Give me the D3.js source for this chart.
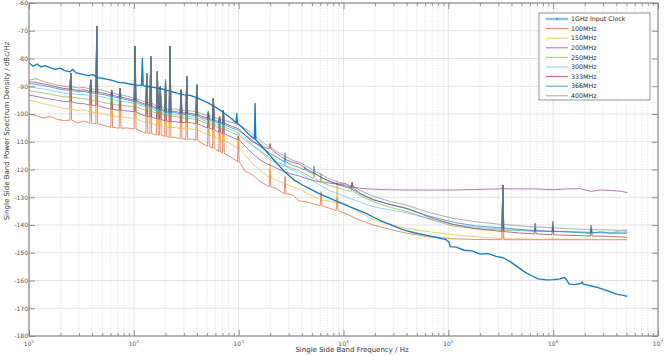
<!DOCTYPE html>
<html><head><meta charset="utf-8">
<script src="https://cdn.jsdelivr.net/npm/d3@7"></script>
<style>
html,body{margin:0;padding:0;background:#fff;}
svg{display:block;font-family:"DejaVu Sans",Verdana,sans-serif;}
</style></head><body>
<svg id="chart" width="664" height="356"></svg>
<script>
// ---------- DATA ----------
const seriesNames = ["1GHz Input Clock","100MHz","150MHz","200MHz","250MHz","300MHz","333MHz","366MHz","400MHz"];
const yTickValues = [-60,-70,-80,-90,-100,-110,-120,-130,-140,-150,-160,-170,-180];
const xTickExponents = [1,2,3,4,5,6,7];

// input clock
const clockFreqHz = [10, 10.92, 11.92, 13.02, 14.21, 15.87, 17.71, 19.76, 22.06, 24.62,
 26.29, 28.08, 32.05, 36.56, 40.8, 45.53, 50.82, 56.72, 63.3, 70.67,
 80.63, 91.99, 104.9, 118.4, 120.5, 122.9, 136.6, 159.4, 181.8, 207.4,
 231.5, 264.2, 301.3, 343.9, 392.2, 447.5, 510.5, 582.6, 664.5, 758.3,
 865, 944.6, 959.2, 973.9, 1078, 1229, 1412, 1434, 1456, 1672,
 1994, 2377, 2835, 3378, 4027, 4801, 5722, 6823, 8135, 9696,
 11560, 13780, 16430, 19590, 23350, 27850, 33190, 39570, 47180, 56230,
 67050, 79930, 95280, 101800, 104000, 118700, 141500, 168700, 201100, 239800,
 285800, 333400, 388800, 453400, 528800, 616600, 719300, 857600, 1022000, 1166000,
 1274000, 1331000, 1421000, 1621000, 1850000, 1891000, 1933000, 2255000, 2629000, 3066000,
 3576000, 4080000, 4554000, 5083000];
const clockDbc = [-81.5, -82.8, -82.0, -83.0, -82.6, -83.3, -83.9, -83.5, -84.4, -84.8,
 -83.9, -85.2, -85.6, -86.2, -85.8, -86.9, -87.2, -87.5, -88.0, -88.6,
 -88.8, -89.2, -89.6, -89.7, -80.0, -89.8, -90.1, -90.5, -90.9, -91.5,
 -92.0, -92.6, -93.1, -93.3, -94.0, -95.0, -96.0, -97.2, -98.6, -100.2,
 -101.8, -103.2, -99.8, -103.4, -104.8, -107.0, -109.0, -96.2, -109.3, -111.8,
 -115.0, -118.3, -121.3, -123.8, -125.5, -127.0, -128.5, -129.8, -131.0, -132.2,
 -133.5, -134.6, -135.8, -137.3, -138.7, -139.8, -141.0, -142.0, -142.8, -143.4,
 -144.0, -144.6, -145.3, -146.2, -147.8, -148.0, -149.1, -149.3, -150.5, -150.3,
 -151.3, -151.8, -153.2, -155.0, -156.8, -158.2, -159.4, -159.8, -159.7, -159.4,
 -158.9, -159.5, -161.3, -161.5, -161.0, -160.5, -161.3, -161.9, -162.5, -163.3,
 -164.2, -165.0, -165.3, -165.7];

// divided outputs: shared frequency grid (noise floor values)
const freqHz = [10, 11.66, 13.6, 15.87, 18.5, 21.6, 25.0, 29.3, 33.5, 38.8,
 44.3, 51.9, 61.5, 73.9, 86.1, 102.7, 117.1, 132.8, 145, 167.6,
 179.0, 200.6, 221.5, 247.3, 282.1, 319.8, 359.3, 398.3, 447.5, 514.0,
 573.7, 657.3, 714.5, 846, 993.4, 1151, 1343, 1601, 1994, 2325,
 2772, 3304, 3770, 4301, 4697, 5243, 6114, 7289, 8688, 10360,
 12080, 14400, 19160, 27850, 40460, 67050, 111100, 180300, 331100, 484300,
 673200, 993400, 1331000, 1809000, 2305000, 2809000, 3445000, 4358000, 5083000];

// spurs (each spur frequency is also in freqHz)
const spurFreqHz = [25.0, 38.8, 44.3, 61.5, 73.9, 102.7, 132.8, 145, 167.6, 179.0,
 200.6, 221.5, 282.1, 319.8, 398.3, 514.0, 573.7, 657.3, 714.5,
 993.4, 1994, 2772, 4301, 5243, 6114, 8688, 12080, 331100, 673200, 993400, 2305000];
// low-frequency spurs reached by every output
const sharedSpurDbc = [-85.3, -87.7, -68.3, -91.5, -90.7, -75.5, -85.3, -79.3, -84.7, -90.1,
 -87.7, -75.5, -91.3, -86.5, -89.5, -99.2, -94.4, -101.0, -98.6];

const dbc100 = [-100.0, -100.6, -101.4, -100.9, -101.9, -102.4, -102.2, -103.2, -102.5, -103.4,
 -103.5, -104.1, -104.8, -105.1, -105.0, -105.4, -106.2, -106.9, -107.1, -107.6,
 -107.6, -108.1, -108.5, -108.4, -108.9, -109.1, -109.0, -109.5, -110.6, -111.6,
 -112.3, -113.6, -114.2, -115.6, -117.2, -120.6, -121.8, -124.3, -126.2, -127.0,
 -128.8, -129.2, -131.3, -131.6, -131.9, -132.5, -133.1, -133.9, -134.8, -135.8,
 -137.0, -138.3, -140.0, -141.6, -143.0, -144.3, -145.0, -145.2, -145.3, -145.3,
 -145.3, -145.3, -145.3, -145.3, -145.3, -145.3, -145.3, -145.3, -145.3];
const dbc150 = [-95.0, -95.5, -96.3, -96.8, -97.4, -98.0, -98.2, -98.8, -98.4, -99.3,
 -99.5, -100.0, -100.7, -101.1, -101.3, -101.6, -102.5, -103.1, -103.4, -104.0,
 -104.1, -104.5, -104.9, -104.8, -105.3, -105.4, -105.4, -105.7, -106.6, -107.6,
 -108.1, -109.2, -109.7, -110.8, -112.2, -115.0, -117.8, -120.4, -122.8, -124.0,
 -125.1, -126.3, -127.0, -128.3, -129.0, -129.6, -130.9, -131.4, -132.0, -132.5,
 -133.9, -135.5, -138.0, -140.0, -141.2, -142.5, -143.5, -144.2, -144.9, -145.0,
 -145.1, -145.1, -145.1, -145.1, -145.1, -145.2, -145.2, -145.2, -145.2];
const dbc200 = [-93.2, -93.6, -94.2, -94.6, -95.0, -95.5, -95.6, -96.2, -96.3, -96.8,
 -97.0, -97.6, -98.3, -98.7, -98.9, -99.2, -100.1, -100.8, -101.1, -101.7,
 -101.9, -102.5, -102.8, -102.7, -103.1, -103.1, -103.2, -103.5, -104.2, -105.0,
 -105.6, -106.6, -107.1, -108.2, -109.3, -111.6, -114.1, -116.6, -118.5, -119.6,
 -120.9, -121.8, -122.3, -123.1, -123.6, -124.0, -124.5, -124.9, -125.2, -125.2,
 -126.3, -126.8, -127.1, -127.3, -127.4, -127.4, -127.4, -127.2, -126.95, -127.0,
 -127.0, -127.3, -127.0, -126.9, -127.9, -127.4, -127.5, -127.8, -128.3];
const dbc250 = [-91.6, -92.0, -92.4, -92.9, -93.3, -93.8, -93.9, -94.3, -94.4, -95.0,
 -95.4, -95.9, -96.4, -96.9, -97.1, -97.4, -98.1, -98.8, -99.1, -99.7,
 -100.0, -100.6, -100.9, -100.8, -101.4, -101.6, -101.7, -102.1, -102.7, -103.5,
 -104.1, -105.0, -105.5, -106.6, -107.7, -109.5, -111.3, -113.2, -115.9, -117.2,
 -118.6, -119.7, -120.3, -121.6, -122.4, -123.3, -124.6, -125.7, -126.6, -127.4,
 -127.9, -129.5, -131.6, -133.6, -135.2, -138.0, -140.4, -141.3, -141.85, -142.0,
 -142.3, -142.35, -142.3, -142.8, -143.1, -142.3, -143.0, -142.1, -142.3];
const dbc300 = [-90.2, -90.6, -91.0, -91.5, -92.0, -92.5, -92.6, -93.0, -92.9, -93.4,
 -93.6, -94.0, -94.7, -95.4, -95.7, -96.1, -97.0, -97.7, -98.1, -98.9,
 -99.2, -100.0, -100.3, -100.2, -100.7, -100.9, -101.0, -101.4, -102.0, -102.7,
 -103.3, -104.1, -104.6, -105.7, -106.8, -108.7, -110.9, -113.6, -116.6, -117.8,
 -119.1, -120.3, -121.0, -122.4, -123.3, -124.4, -125.9, -127.5, -128.6, -129.8,
 -130.7, -131.8, -133.4, -134.6, -135.6, -137.8, -139.8, -140.8, -141.45, -141.8,
 -142.1, -142.3, -142.4, -142.5, -142.6, -142.6, -142.6, -142.7, -142.7];
const dbc333 = [-88.4, -88.6, -89.1, -89.6, -90.3, -90.8, -91.0, -91.5, -91.3, -91.9,
 -92.1, -92.5, -93.2, -93.9, -94.4, -95.0, -95.9, -96.5, -96.9, -97.8,
 -98.0, -98.8, -99.1, -99.0, -99.5, -99.7, -99.9, -100.2, -100.9, -101.5,
 -102.1, -102.8, -103.3, -104.3, -105.3, -107.6, -110.0, -111.4, -112.6, -114.4,
 -116.3, -117.5, -118.0, -119.5, -120.3, -121.3, -122.8, -124.1, -125.2, -125.8,
 -126.6, -128.6, -130.8, -132.6, -134.0, -137.3, -139.8, -141.3, -142.35, -142.9,
 -143.2, -143.5, -143.7, -143.8, -144.0, -144.0, -144.1, -144.3, -144.4];
const dbc366 = [-89.0, -89.3, -89.7, -90.2, -90.8, -91.3, -91.5, -92.0, -91.8, -92.4,
 -92.7, -93.0, -93.7, -94.4, -94.9, -95.5, -96.4, -97.0, -97.4, -98.3,
 -98.5, -99.3, -99.6, -99.5, -100.0, -100.2, -100.4, -100.7, -101.4, -102.0,
 -102.6, -103.3, -103.8, -104.9, -105.9, -107.6, -109.4, -111.6, -114.3, -115.6,
 -117.2, -118.6, -119.2, -120.2, -120.8, -121.5, -122.8, -124.3, -125.3, -126.3,
 -127.1, -128.8, -131.0, -132.6, -134.2, -136.9, -139.0, -140.3, -141.05, -141.6,
 -142.0, -142.3, -142.5, -142.6, -142.7, -142.8, -142.9, -143.0, -143.0];
const dbc400 = [-87.8, -87.3, -88.2, -88.9, -89.6, -90.0, -90.2, -90.6, -90.4, -91.0,
 -91.2, -91.6, -92.4, -93.1, -93.6, -94.3, -95.2, -95.6, -96.1, -97.0,
 -97.2, -98.0, -98.3, -98.1, -98.7, -98.8, -98.9, -99.3, -100.0, -100.5,
 -101.1, -101.8, -102.3, -103.0, -103.8, -105.2, -107.1, -109.4, -112.1, -113.6,
 -115.3, -116.7, -117.4, -118.5, -119.4, -120.4, -121.8, -123.2, -124.4, -125.0,
 -126.0, -127.6, -129.6, -131.5, -132.9, -135.6, -137.6, -138.8, -139.8, -140.3,
 -140.7, -141.0, -141.3, -141.5, -141.6, -141.7, -141.8, -141.9, -141.8];

// higher-frequency spurs per output (spurFreqHz[19..30]); null = no spur
const hfSpur100 = [-108.2, -120.0, -122.5, null, null, -128.0, -130.0, null, -125.6, null, null, null];
const hfSpur150 = [-108.2, -117.5, null, null, null, null, -124.4, null, -125.6, null, -144.5, null];
const hfSpur200 = [-108.0, null, null, null, null, null, null, -124.8, -125.6, null, null, null];
const hfSpur250 = [-107.0, null, null, null, -121.0, -121.4, null, -124.4, -125.6, -142.0, -141.0, -142.5];
const hfSpur300 = [null, null, -116.0, null, null, null, null, null, -125.6, -141.0, -140.2, -141.5];
const hfSpur333 = [null, -110.8, null, null, null, null, null, -124.8, -125.6, -141.0, -140.5, -141.5];
const hfSpur366 = [null, null, -114.0, -119.0, -118.7, null, null, null, -125.6, -139.4, -138.7, -140.0];
const hfSpur400 = [null, -110.5, null, null, null, null, null, -124.6, -125.6, -139.4, -139.5, -140.5];

// ---------- STYLE / RENDER ----------
const colors = ["#0072BD","#D95319","#EDB120","#7E2F8E","#77AC30","#4DBEEE","#A2142F","#0072BD","#808080"];
const outputs = [
  {v: dbc100, hf: hfSpur100}, {v: dbc150, hf: hfSpur150}, {v: dbc200, hf: hfSpur200},
  {v: dbc250, hf: hfSpur250}, {v: dbc300, hf: hfSpur300}, {v: dbc333, hf: hfSpur333},
  {v: dbc366, hf: hfSpur366}, {v: dbc400, hf: hfSpur400}
];
const spikeHalfWidthPx = 0.9;   // drawing width of a spur spike

// build [freq, dBc, pixelOffset] points; spur spikes are drawn as narrow triangles
function outputPoints(o) {
  const pts = [];
  freqHz.forEach((f, k) => {
    const base = o.v[k];
    const j = spurFreqHz.indexOf(f);
    const peak = j < 0 ? null : (j < sharedSpurDbc.length ? sharedSpurDbc[j] : o.hf[j - sharedSpurDbc.length]);
    if (peak === null) { pts.push([f, base, 0]); return; }
    pts.push([f, base, -spikeHalfWidthPx]);
    pts.push([f, peak, 0]);
    pts.push([f, base, spikeHalfWidthPx]);
  });
  return pts;
}

const svg = d3.select("#chart");
const L = 29, R = 658, T = 3, B = 336;
svg.append("rect").attr("width",664).attr("height",356).attr("fill","#fff");

const x = d3.scaleLog().domain([10, 1e7]).range([L, R]);
const y = d3.scaleLinear().domain([-180, -60]).range([B, T]);

const decades = xTickExponents.map(e => Math.pow(10, e));
const minorTicks = [];
xTickExponents.slice(0, -1).forEach(e => { for (let m = 2; m < 10; m++) minorTicks.push(m * Math.pow(10, e)); });

// grid
const grid = svg.append("g");
grid.selectAll("line.minx").data(minorTicks).join("line")
  .attr("x1", d => x(d)).attr("x2", d => x(d)).attr("y1", T).attr("y2", B)
  .attr("stroke", "#d4d4d4").attr("stroke-width", 0.7).attr("stroke-dasharray", "1,1.6");
grid.selectAll("line.majx").data(decades).join("line")
  .attr("x1", d => x(d)).attr("x2", d => x(d)).attr("y1", T).attr("y2", B)
  .attr("stroke", "#e3e3e3").attr("stroke-width", 1);
grid.selectAll("line.majy").data(yTickValues).join("line")
  .attr("x1", L).attr("x2", R).attr("y1", d => y(d)).attr("y2", d => y(d))
  .attr("stroke", "#e3e3e3").attr("stroke-width", 1.2);

// lines
svg.append("clipPath").attr("id","clip").append("rect")
  .attr("x", L).attr("y", T).attr("width", R - L).attr("height", B - T);
const line = d3.line().x(d => x(d[0]) + (d[2] || 0)).y(d => y(d[1]));
const plot = svg.append("g").attr("clip-path","url(#clip)");
outputs.forEach((o, i) => {
  plot.append("path").datum(outputPoints(o))
    .attr("d", line).attr("fill","none")
    .attr("stroke", colors[i + 1]).attr("stroke-opacity", 0.7)
    .attr("stroke-width", 0.9).attr("stroke-linejoin","round");
});
plot.append("path").datum(clockFreqHz.map((f, k) => [f, clockDbc[k], 0]))
  .attr("d", line).attr("fill","none")
  .attr("stroke", colors[0]).attr("stroke-opacity", 0.92)
  .attr("stroke-width", 1.35).attr("stroke-linejoin","round");

// axes
const axColor = "#7a7a7a";
function styleAxis(g){
  g.select(".domain").remove();
  g.selectAll(".tick line").attr("stroke", axColor).attr("stroke-width", 0.8);
  g.selectAll("text").attr("fill", "#555").attr("font-size", "6px")
   .attr("font-family", '"DejaVu Sans",Verdana,sans-serif');
}
svg.append("g").attr("transform",`translate(0,${B})`)
  .call(d3.axisBottom(x).tickValues(decades).tickSize(-6).tickFormat("")).call(styleAxis);
svg.append("g").attr("transform",`translate(0,${B})`)
  .call(d3.axisBottom(x).tickValues(minorTicks).tickSize(-3).tickFormat("")).call(styleAxis);
svg.append("g").attr("transform",`translate(0,${T})`)
  .call(d3.axisTop(x).tickValues(decades).tickSize(-6).tickFormat("")).call(styleAxis);
svg.append("g").attr("transform",`translate(0,${T})`)
  .call(d3.axisTop(x).tickValues(minorTicks).tickSize(-3).tickFormat("")).call(styleAxis);
svg.append("g").attr("transform",`translate(${L},0)`)
  .call(d3.axisLeft(y).tickValues(yTickValues).tickSize(-6).tickPadding(1).tickFormat(d => String(d))).call(styleAxis);
svg.append("g").attr("transform",`translate(${R},0)`)
  .call(d3.axisRight(y).tickValues(yTickValues).tickSize(-6).tickFormat("")).call(styleAxis);

svg.append("rect").attr("x", L).attr("y", T).attr("width", R - L).attr("height", B - T)
  .attr("fill","none").attr("stroke", axColor).attr("stroke-width", 1);

// x tick labels 10^n
const xl = svg.append("g").attr("font-size","6px").attr("fill","#555");
xTickExponents.forEach(e => {
  const t = xl.append("text").attr("x", x(Math.pow(10, e))).attr("y", 346).attr("text-anchor","middle");
  t.append("tspan").text("10");
  t.append("tspan").attr("font-size","4.2px").attr("dy", -2.6).text(String(e));
});

// axis titles
svg.append("text").attr("x", 352).attr("y", 352).attr("text-anchor","middle")
  .attr("font-size","7px").attr("fill","#333").text("Single Side Band Frequency / Hz");
svg.append("text").attr("transform","translate(9,131) rotate(-90)").attr("text-anchor","middle")
  .attr("font-size","7px").attr("fill","#333").text("Single Side Band Power Spectrum Density / dBc/Hz");

// legend
const lg = svg.append("g");
lg.append("rect").attr("x", 539).attr("y", 13).attr("width", 111).attr("height", 87)
  .attr("fill","#fff").attr("stroke","#7a7a7a").attr("stroke-width",0.8);
seriesNames.forEach((name, i) => {
  const yy = 19 + i * 9.6;
  lg.append("line").attr("x1", 546).attr("x2", 568).attr("y1", yy).attr("y2", yy)
    .attr("stroke", colors[i]).attr("stroke-opacity", i === 0 ? 0.45 : 0.7)
    .attr("stroke-width", i === 0 ? 2.4 : 1);
  if (i === 0) lg.append("line").attr("x1", 557).attr("x2", 557).attr("y1", yy - 1.3).attr("y2", yy + 1.3)
    .attr("stroke", colors[0]).attr("stroke-width", 0.8);
  lg.append("text").attr("x", 571).attr("y", yy + 2.2).attr("font-size","6.3px").attr("fill","#262626").text(name);
});
</script>
</body></html>
